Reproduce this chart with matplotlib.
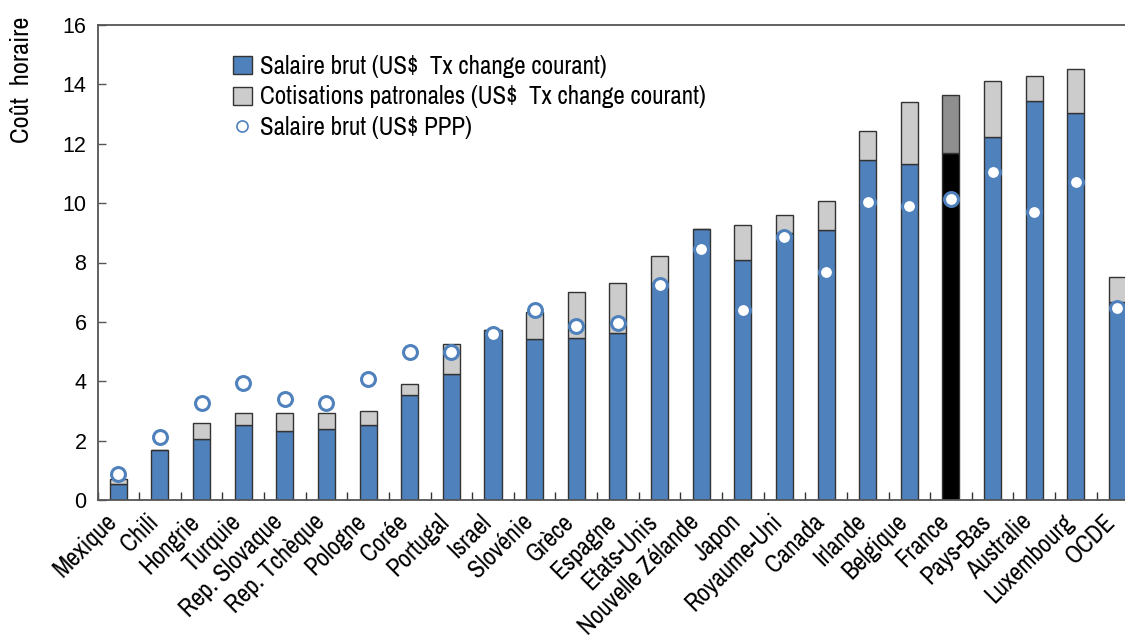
import matplotlib
matplotlib.use("Agg")
import matplotlib.pyplot as plt
import matplotlib.transforms as mtransforms
from matplotlib.patches import Patch
from matplotlib.lines import Line2D
import numpy as np

plt.rcParams['font.family'] = ['Liberation Sans', 'DejaVu Sans']
NARROW = ['Archivo Narrow', 'Liberation Sans', 'DejaVu Sans']

countries = ["Mexique", "Chili", "Hongrie", "Turquie", "Rep. Slovaque", "Rep. Tchèque",
             "Pologne", "Corée", "Portugal", "Israel", "Slovénie", "Grèce", "Espagne",
             "Etats-Unis", "Nouvelle Zélande", "Japon", "Royaume-Uni", "Canada", "Irlande",
             "Belgique", "France", "Pays-Bas", "Australie", "Luxembourg", "OCDE"]
salaire_brut = [0.53, 1.68, 2.04, 2.53, 2.34, 2.38, 2.53, 3.54, 4.23, 5.71, 5.41, 5.45, 5.64,
                7.30, 9.13, 8.08, 9.00, 9.08, 11.46, 11.33, 11.70, 12.23, 13.45, 13.02, 6.66]
cout_total = [0.71, 1.68, 2.60, 2.94, 2.94, 2.94, 3.00, 3.90, 5.24, 5.71, 6.32, 7.02, 7.31,
              8.22, 9.13, 9.25, 9.60, 10.07, 12.42, 13.40, 13.63, 14.13, 14.28, 14.53, 7.52]
salaire_ppp = [0.87, 2.13, 3.26, 3.95, 3.39, 3.26, 4.09, 5.00, 5.00, 5.58, 6.39, 5.87, 5.95,
               7.25, 8.45, 6.41, 8.86, 7.68, 10.05, 9.92, 10.15, 11.05, 9.71, 10.70, 6.47]
cotisations = [t - s for t, s in zip(cout_total, salaire_brut)]

blue = "#4F81BD"
grey = "#CCCCCC"
edge = "#333333"
highlight = "France"

fig = plt.figure(figsize=(11.25, 6.43), dpi=100)
ax = fig.add_axes([97.5 / 1125, 1 - 500 / 643, 1040.8 / 1125, 475 / 643])

x = np.arange(len(countries))
c1 = ["#000000" if c == highlight else blue for c in countries]
c2 = ["#8F8F8F" if c == highlight else grey for c in countries]
w = 0.41
ax.bar(x, salaire_brut, width=w, color=c1, edgecolor=edge, linewidth=1.0, zorder=2)
ax.bar(x, cotisations, bottom=salaire_brut, width=w, color=c2, edgecolor=edge, linewidth=1.0, zorder=2)
ax.plot(x, salaire_ppp, linestyle='none', marker='o', markersize=10,
        markerfacecolor='white', markeredgecolor=blue, markeredgewidth=2.2, zorder=3)

ax.set_xlim(-0.5, len(countries) - 0.5)
ax.set_ylim(0, 16)
ax.set_yticks(np.arange(0, 17, 2))
ax.tick_params(axis='y', direction='in', length=6, width=1, color='#555555',
               labelsize=15.5, pad=8)
ax.set_xticks(x)
ax.set_xticklabels(countries, rotation=45, ha='right', rotation_mode='anchor',
                   fontsize=18, family=NARROW)
ax.tick_params(axis='x', which='major', length=0, pad=7)
ax.set_xticks(np.arange(-0.5, len(countries), 1), minor=True)
ax.tick_params(axis='x', which='minor', direction='in', length=6, width=1, color='#333333')
offset = mtransforms.ScaledTranslation(-14 / 100, 0, fig.dpi_scale_trans)
for lab in ax.get_xticklabels():
    lab.set_transform(lab.get_transform() + offset)

for s in ['left', 'bottom', 'top', 'right']:
    ax.spines[s].set_color('#555555')
    ax.spines[s].set_linewidth(1.3)

fig.text(22 / 1125, 1 - 80 / 643, "Coût  horaire", rotation=90, ha='center', va='center',
         fontsize=19, family=NARROW)

handles = [Patch(facecolor=blue, edgecolor=edge, linewidth=1.0),
           Patch(facecolor=grey, edgecolor=edge, linewidth=1.0),
           Line2D([], [], linestyle='none', marker='o', markersize=8,
                  markerfacecolor='white', markeredgecolor=blue, markeredgewidth=1.2)]
labels = ["Salaire brut (US$  Tx change courant)",
          "Cotisations patronales (US$  Tx change courant)",
          "Salaire brut (US$ PPP)"]
ax.legend(handles, labels, loc='upper left', bbox_to_anchor=((233 - 97.5) / 1040.8, (500 - 55) / 475),
          frameon=False, prop={'family': NARROW, 'size': 18}, handlelength=0.75, handleheight=0.75,
          handletextpad=0.35, labelspacing=0.3, borderaxespad=0, borderpad=0)

fig.savefig("out.png", dpi=100)
